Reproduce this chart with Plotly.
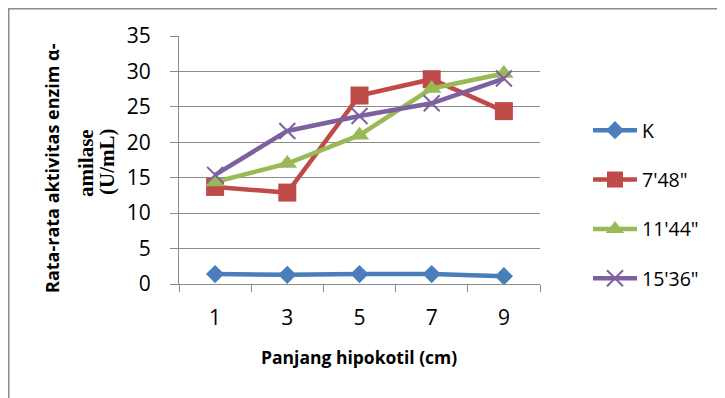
import plotly.graph_objects as go

categories = ["1", "3", "5", "7", "9"]
series_names = ["K", "7'48\"", "11'44\"", "15'36\""]
k_vals = [1.4, 1.3, 1.4, 1.4, 1.1]
s748_vals = [13.7, 12.9, 26.6, 28.9, 24.4]
s1144_vals = [14.4, 17.0, 21.0, 27.6, 29.7]
s1536_vals = [15.4, 21.6, 23.7, 25.5, 29.0]
y_ticks = [0, 5, 10, 15, 20, 25, 30, 35]

# page is rendered with the default 8px body margin
OFF = 8
PW, PH = 725, 398
W, H = PW - OFF, PH - OFF
L, R, T, B = 179, 540, 36, 284   # plot area in page pixels
pw, ph = R - L, B - T

def px(x):
    return (x - L) / pw

def py(y):
    return (B - y) / ph

colors = ["#4A7EBB", "#BE4B48", "#98B954", "#7D60A0"]
symbols = ["diamond", "square", "triangle-up", "x-thin"]
sizes = [14, 18, 17, 16]
values = [k_vals, s748_vals, s1144_vals, s1536_vals]

fig = go.Figure()
for i, (name, vals) in enumerate(zip(series_names, values)):
    marker = dict(symbol=symbols[i], size=sizes[i], color=colors[i])
    if symbols[i] == "x-thin":
        marker["line"] = dict(color=colors[i], width=2)
    else:
        marker["line"] = dict(width=0)
    fig.add_trace(go.Scatter(
        x=categories, y=vals, name=name, mode="lines+markers",
        line=dict(color=colors[i], width=4.5),
        marker=marker, legendgroup=f"g{i}",
    ))

font_sans = "'Open Sans', sans-serif"
font_serif = "'Liberation Serif', 'Times New Roman', serif"
grid = "#8A8A8A"

fig.update_layout(
    width=W, height=H,
    margin=dict(l=L - OFF, r=PW - R, t=T - OFF, b=PH - B, pad=0, autoexpand=False),
    paper_bgcolor="white", plot_bgcolor="white",
    font=dict(family=font_sans, color="black", size=20),
    showlegend=True,
    legend=dict(x=px(588), y=py(111), xanchor="left", yanchor="top",
                font=dict(size=19.5, family=font_sans, color="black"),
                tracegroupgap=21, itemwidth=44, bgcolor="rgba(0,0,0,0)"),
    xaxis=dict(type="category", range=[-0.5, 4.5], showgrid=False,
               showline=True, linecolor=grid, linewidth=1,
               ticks="outside", tickson="boundaries", ticklen=7, tickcolor=grid,
               tickfont=dict(size=21), ticklabelstandoff=15, fixedrange=True),
    yaxis=dict(range=[0, 35], tickvals=y_ticks, showgrid=True, gridcolor=grid,
               gridwidth=1, showline=True, linecolor=grid, linewidth=1,
               ticks="outside", ticklen=8, tickcolor=grid, zeroline=False,
               tickfont=dict(size=21), ticklabelstandoff=15, fixedrange=True),
    shapes=[
        dict(type="line", xref="paper", yref="paper", x0=px(8), x1=px(740),
             y0=py(8.75), y1=py(8.75), line=dict(color="#8C8C8C", width=1.5)),
        dict(type="line", xref="paper", yref="paper", x0=px(8.75), x1=px(8.75),
             y0=py(8), y1=py(410), line=dict(color="#8C8C8C", width=1.5)),
    ],
    annotations=[
        dict(text="<b>Rata-rata aktivitas enzim α-</b>", xref="paper", yref="paper",
             x=px(52), y=py(168), textangle=-90, showarrow=False,
             font=dict(size=18, family=font_sans, color="black"),
             xanchor="center", yanchor="middle"),
        dict(text="<b>amilase</b>", xref="paper", yref="paper",
             x=px(86), y=py(163), textangle=-90, showarrow=False,
             font=dict(size=21, family=font_serif, color="black"),
             xanchor="center", yanchor="middle"),
        dict(text="<b>(U/mL)</b>", xref="paper", yref="paper",
             x=px(107), y=py(162), textangle=-90, showarrow=False,
             font=dict(size=21, family=font_serif, color="black"),
             xanchor="center", yanchor="middle"),
        dict(text="<b>Panjang hipokotil (cm)</b>", xref="paper", yref="paper",
             x=px(359), y=py(357), showarrow=False,
             font=dict(size=17.5, family=font_sans, color="black"),
             xanchor="center", yanchor="middle"),
    ],
)

fig.write_html("out.html")
